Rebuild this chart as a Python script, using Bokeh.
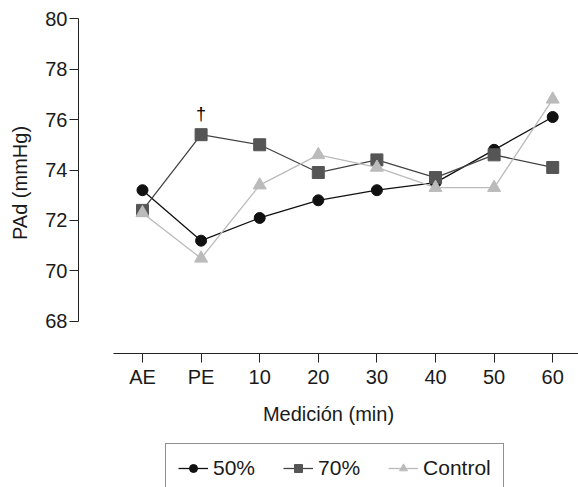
from bokeh.plotting import figure
from bokeh.models import Range1d, FixedTicker, Legend, LegendItem, LinearAxis
from bokeh.layouts import column
from bokeh.embed import file_html
from bokeh.resources import INLINE
from bokeh.core.properties import value

categories = ["AE", "PE", "10", "20", "30", "40", "50", "60"]
s50 = [73.2, 71.2, 72.1, 72.8, 73.2, 73.5, 74.8, 76.1]
s70 = [72.4, 75.4, 75.0, 73.9, 74.4, 73.7, 74.6, 74.1]
control = [72.3, 70.5, 73.4, 74.6, 74.1, 73.3, 73.3, 76.8]
y_ticks = [68, 70, 72, 74, 76, 78, 80]
series_names = ["50%", "70%", "Control"]

xs = list(range(len(categories)))
FONT = "Liberation Sans"
FS = "20px"

styles = [
    dict(line="#111111", fill="#111111", marker="circle", size=11),
    dict(line="#444444", fill="#555555", marker="square", size=12),
    dict(line="#bbbbbb", fill="#bbbbbb", marker="triangle", size=13),
]

p = figure(width=578, height=440, output_backend="svg", toolbar_location=None,
           x_range=Range1d(-1.092, 7.44), y_range=Range1d(66.73, 80.24),
           x_axis_type=None, y_axis_type=None,
           min_border_top=12, min_border_right=0, min_border_left=78,
           min_border_bottom=87)
p.outline_line_color = None
p.xgrid.visible = False
p.ygrid.visible = False

yax = LinearAxis(ticker=FixedTicker(ticks=y_ticks), bounds=(68, 80),
                 axis_label="PAd (mmHg)")
xax = LinearAxis(ticker=FixedTicker(ticks=xs), bounds=(-0.5, 7.5),
                 axis_label="Medición (min)",
                 major_label_overrides={i: c for i, c in enumerate(categories)})
for ax in (xax, yax):
    ax.axis_line_color = "#222222"
    ax.major_tick_line_color = "#222222"
    ax.major_tick_out = 9
    ax.major_tick_in = 0
    ax.minor_tick_out = 0
    ax.minor_tick_in = 0
    ax.major_label_text_font = FONT
    ax.major_label_text_font_size = FS
    ax.major_label_text_color = "#1a1a1a"
    ax.axis_label_text_font = FONT
    ax.axis_label_text_font_size = FS
    ax.axis_label_text_font_style = "normal"
    ax.axis_label_text_color = "#1a1a1a"
yax.major_label_standoff = 2
yax.axis_label_standoff = 11
xax.major_label_standoff = 3
xax.axis_label_standoff = 12
p.add_layout(yax, "left")
p.add_layout(xax, "below")

all_series = [s50, s70, control]
for ys, st in zip(all_series, styles):
    p.line(xs, ys, line_color=st["line"], line_width=1.3)
    p.scatter(xs, ys, marker=st["marker"], size=st["size"],
              fill_color=st["fill"], line_color=st["fill"])

p.text(x=[1], y=[s70[1]], text=["†"], text_font=value(FONT), text_font_size="18px",
       text_align="center", text_baseline="bottom", y_offset=-11, text_color="#000000")

# legend strip (series drawn outside its visible ranges; only the legend shows)
pl = figure(width=578, height=47, output_backend="svg", toolbar_location=None,
            x_range=Range1d(100, 101), y_range=Range1d(0, 1),
            x_axis_type=None, y_axis_type=None,
            min_border_top=0, min_border_bottom=0, min_border_left=0, min_border_right=0)
pl.outline_line_color = None
pl.xgrid.visible = False
pl.ygrid.visible = False
items = []
for name, ys, st in zip(series_names, all_series, styles):
    lr = pl.line(xs, ys, line_color=st["line"], line_width=1.3)
    mr = pl.scatter(xs, ys, marker=st["marker"], size=st["size"] - 1,
                    fill_color=st["fill"], line_color=st["fill"])
    items.append(LegendItem(label=name, renderers=[lr, mr]))
legend = Legend(items=items, orientation="horizontal", location=(87, -6))
legend.label_text_font = FONT
legend.label_text_font_size = "21px"
legend.label_text_color = "#1a1a1a"
legend.border_line_color = "#222222"
legend.border_line_width = 1
legend.glyph_width = 30
legend.label_standoff = 5
legend.spacing = 28
legend.padding = 12
legend.margin = 0
legend.background_fill_alpha = 0
pl.add_layout(legend, "center")

layout = column(p, pl, spacing=0)
open("out.html", "w").write(file_html(layout, INLINE))
